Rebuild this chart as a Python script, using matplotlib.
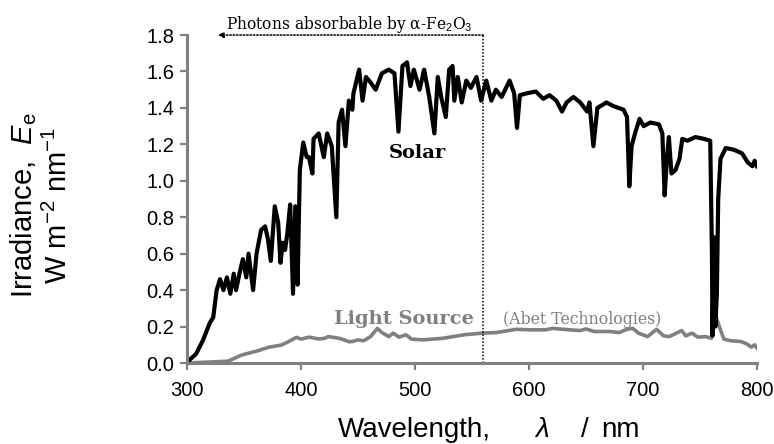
import matplotlib
matplotlib.use("Agg")
import matplotlib.pyplot as plt

# --------------------------------------------------------------------
# Data
# --------------------------------------------------------------------

solar_wl = [300, 302, 308, 314, 320, 323, 326, 329, 332, 335, 338, 341, 343,
            346, 349, 352, 354, 358, 361, 365, 368.5, 371, 373.5, 377, 380,
            382, 384, 386, 388, 390.5, 393, 395, 397, 399, 402, 405, 407, 410,
            411, 415.5, 420, 423, 427, 431, 433, 436, 439, 442, 445, 446, 451,
            454, 457, 461, 465.5, 471, 477, 482, 485.5, 489, 493, 496, 499,
            504, 508, 512.5, 517, 520, 523, 527, 530, 533, 534.5, 537.5, 541,
            545, 549, 554, 558, 562.5, 567, 571, 576, 583, 587, 589.5, 592,
            598, 606, 612.5, 618, 624, 629, 633, 639, 645, 651, 653, 656.5,
            660, 668, 674, 683, 686, 688, 690, 693, 697, 700.6, 706.5, 714,
            717, 719, 721, 722.7, 725, 728.6, 732, 734.5, 739, 746, 753.5, 759,
            760.5, 761, 762.4, 763.5, 764.8, 766, 768, 772.6, 780, 787, 792,
            796, 798, 800]
solar_irr = [0.0, 0.016, 0.05, 0.125, 0.22, 0.25, 0.40, 0.46, 0.40, 0.47,
             0.38, 0.49, 0.40, 0.49, 0.57, 0.47, 0.60, 0.40, 0.60, 0.73, 0.75,
             0.68, 0.56, 0.86, 0.77, 0.55, 0.66, 0.62, 0.71, 0.87, 0.38, 0.86,
             0.43, 1.06, 1.21, 1.13, 1.13, 1.04, 1.23, 1.26, 1.13, 1.26, 1.19,
             0.80, 1.32, 1.39, 1.19, 1.44, 1.39, 1.48, 1.61, 1.44, 1.57, 1.54,
             1.50, 1.59, 1.61, 1.59, 1.27, 1.63, 1.65, 1.52, 1.61, 1.50, 1.61,
             1.46, 1.26, 1.57, 1.46, 1.35, 1.61, 1.63, 1.44, 1.57, 1.43, 1.55,
             1.51, 1.57, 1.44, 1.55, 1.44, 1.50, 1.46, 1.55, 1.48, 1.29, 1.47,
             1.48, 1.49, 1.45, 1.47, 1.44, 1.38, 1.43, 1.46, 1.43, 1.38, 1.43,
             1.19, 1.40, 1.43, 1.41, 1.39, 1.35, 0.97, 1.19, 1.26, 1.34, 1.30,
             1.32, 1.31, 1.26, 0.92, 1.12, 1.24, 1.04, 1.06, 1.12, 1.23, 1.22,
             1.24, 1.23, 1.22, 0.60, 0.15, 0.69, 0.20, 0.38, 0.90, 1.12, 1.18,
             1.17, 1.15, 1.10, 1.08, 1.11, 1.08]

lamp_wl = [300, 336, 348, 362.6, 371.4, 383, 389, 396, 400, 407, 415.5, 421,
           424, 433, 436, 442, 445, 450, 455, 461, 467, 471, 477, 481, 486,
           492, 497, 507, 525, 543, 559, 571, 589, 601, 614, 621, 636, 645,
           650, 657, 671, 679, 686, 691, 696, 704, 712, 718, 723, 734, 737.5,
           743, 748, 755, 760, 764, 768, 771, 777, 786, 791, 795, 798, 800]
lamp_irr = [0.0, 0.01, 0.044, 0.068, 0.086, 0.099, 0.117, 0.141, 0.131,
            0.142, 0.132, 0.136, 0.145, 0.136, 0.131, 0.117, 0.118, 0.127,
            0.122, 0.145, 0.19, 0.167, 0.145, 0.164, 0.142, 0.155, 0.131,
            0.127, 0.136, 0.155, 0.164, 0.167, 0.185, 0.182, 0.182, 0.19,
            0.182, 0.178, 0.187, 0.173, 0.173, 0.167, 0.185, 0.19, 0.164,
            0.145, 0.185, 0.149, 0.145, 0.178, 0.149, 0.164, 0.142, 0.145,
            0.136, 0.255, 0.182, 0.131, 0.122, 0.118, 0.105, 0.087, 0.10,
            0.082]

x_ticks = [300, 400, 500, 600, 700, 800]
y_ticks = [0.0, 0.2, 0.4, 0.6, 0.8, 1.0, 1.2, 1.4, 1.6, 1.8]

ABSORB_EDGE = 560   # nm, band edge of alpha-Fe2O3
ARROW_TIP = 327     # nm, where the dotted arrow ends

SPINE_GREY = "#808080"
LAMP_GREY = "#808080"
NARROW = ["Liberation Sans Narrow", "Liberation Sans", "DejaVu Sans"]

# --------------------------------------------------------------------
# Plot
# --------------------------------------------------------------------

plt.rcParams["font.family"] = ["Liberation Sans", "DejaVu Sans"]
plt.rcParams["mathtext.fontset"] = "custom"
plt.rcParams["mathtext.rm"] = "Liberation Sans"
plt.rcParams["mathtext.it"] = "Liberation Sans:italic"

fig = plt.figure(figsize=(7.74, 4.44), dpi=100)
ax = fig.add_axes([0.2416, 0.1824, 0.7364, 0.7387])

ax.plot(lamp_wl, lamp_irr, color=LAMP_GREY, lw=2.6, solid_joinstyle="round")
ax.plot(solar_wl, solar_irr, color="black", lw=3.0, solid_joinstyle="round")

# absorption edge marker + arrow
ax.plot([ABSORB_EDGE, ABSORB_EDGE], [0, y_ticks[-1]], color="black",
        ls=(0, (1, 1.2)), lw=1.1, clip_on=False)
ax.annotate("", xy=(ARROW_TIP, y_ticks[-1]), xytext=(ABSORB_EDGE, y_ticks[-1]),
            arrowprops=dict(arrowstyle="-|>", color="black", lw=1.1,
                            linestyle=(0, (1, 1.2)), mutation_scale=8,
                            shrinkA=0, shrinkB=0),
            annotation_clip=False)

ax.text(442, 1.833, r"Photons absorbable by α-Fe$_2$O$_3$", ha="center",
        va="baseline", fontsize=11.2, family="DejaVu Serif")
ax.text(502, 1.15, "Solar", ha="center", va="center", fontsize=14,
        fontweight="bold", family="DejaVu Serif")
ax.text(490, 0.24, "Light Source", ha="center", va="center", fontsize=14,
        fontweight="bold", family="DejaVu Serif", color=LAMP_GREY)
ax.text(647, 0.24, "(Abet Technologies)", ha="center", va="center",
        fontsize=11.3, family="DejaVu Serif", color=LAMP_GREY)

ax.set_xlim(x_ticks[0], x_ticks[-1])
ax.set_ylim(y_ticks[0], y_ticks[-1])
ax.set_xticks(x_ticks)
ax.set_yticks(y_ticks)
ax.set_yticklabels([f"{v:.1f}" for v in y_ticks])

for side in ["top", "right"]:
    ax.spines[side].set_visible(False)
for side in ["left", "bottom"]:
    ax.spines[side].set_color(SPINE_GREY)
    ax.spines[side].set_linewidth(2.2)

ax.tick_params(axis="both", direction="out", length=5, width=1.6,
               color=SPINE_GREY, labelsize=14.5)
ax.tick_params(axis="y", pad=4)
ax.tick_params(axis="x", pad=8)

# x label, spaced out like the original
xl_y = -0.226
ax.text(0.265, xl_y, "Wavelength,", transform=ax.transAxes, fontsize=20,
        family=NARROW, ha="left", va="baseline")
ax.text(0.6105, xl_y, "λ", transform=ax.transAxes, fontsize=20,
        family=NARROW, style="italic", ha="left", va="baseline")
ax.text(0.691, xl_y, "/", transform=ax.transAxes, fontsize=20,
        family=NARROW, ha="left", va="baseline")
ax.text(0.726, xl_y, "nm", transform=ax.transAxes, fontsize=20,
        family=NARROW, ha="left", va="baseline")

ax.set_ylabel("Irradiance,  $E_\\mathrm{e}$\nW m$^{-2}$ nm$^{-1}$",
              fontsize=21, linespacing=1.2)
ax.yaxis.set_label_coords(-0.2, 0.48)

fig.savefig("out.png", dpi=100)
